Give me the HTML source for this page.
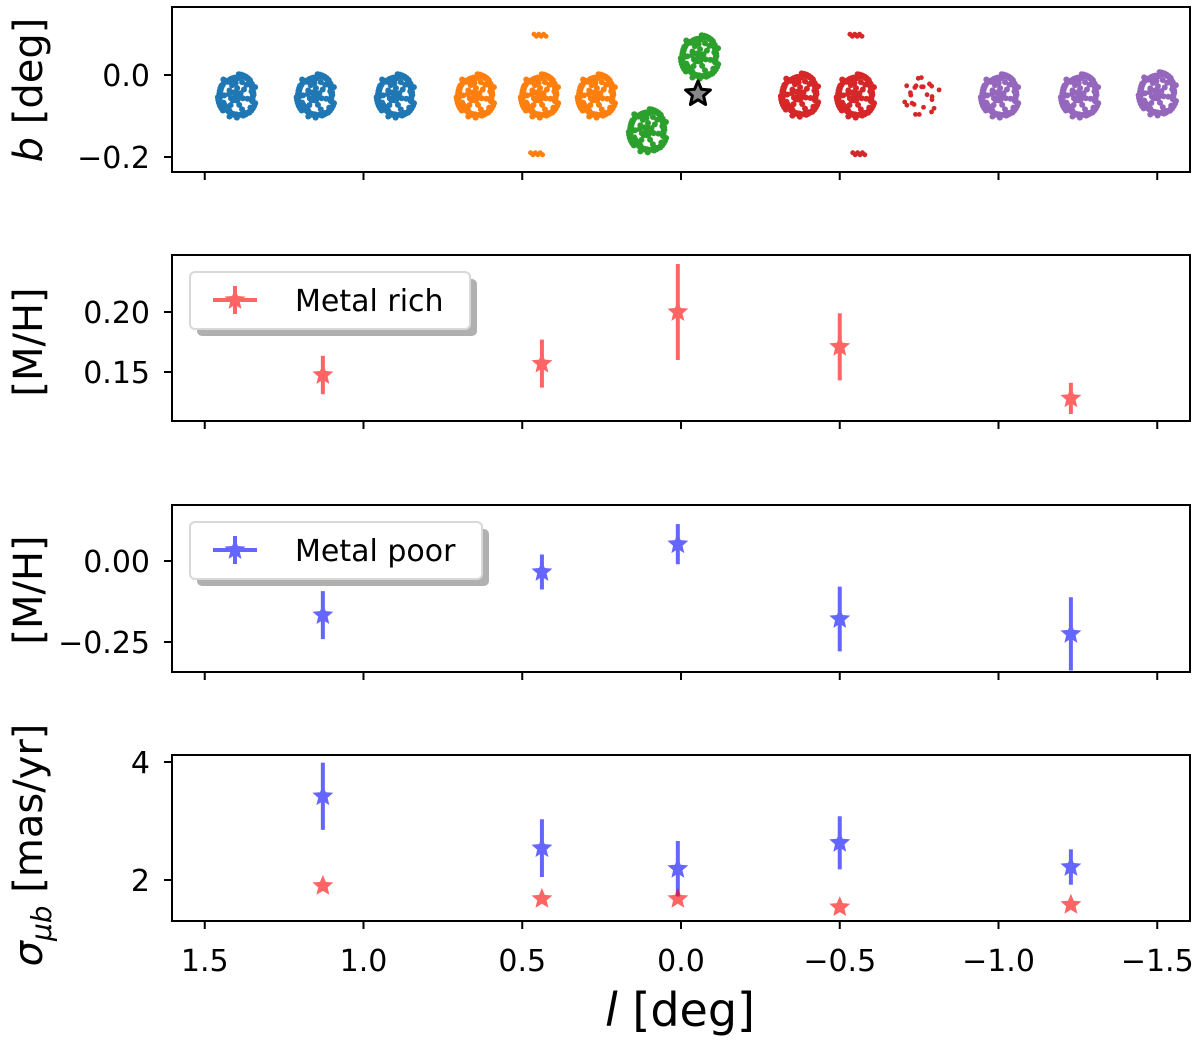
<!DOCTYPE html>
<html><head><meta charset="utf-8"><style>
body{margin:0;background:#fff}
svg{display:block;font-family:"DejaVu Sans","Liberation Sans",sans-serif}
</style></head><body>
<svg id="c" width="1200" height="1040" viewBox="0 0 1200 1040"></svg>
<script>
const lPos=[1.128,0.438,0.01,-0.5,-1.228];
const richM=[0.1475,0.157,0.200,0.171,0.128];
const richMErr=[0.016,0.02,0.04,0.028,0.013];
const poorM=[-0.167,-0.034,0.052,-0.179,-0.225];
const poorMErr=[0.074,0.054,0.062,0.10,0.113];
const poorSig=[3.42,2.54,2.19,2.63,2.22];
const poorSigErr=[0.57,0.49,0.47,0.45,0.3];
const richSig=[1.9,1.68,1.68,1.54,1.58];
const richSigErr=[0.05,0.05,0.06,0.05,0.05];
const fieldL=[1.398,1.15,0.898,0.646,0.444,0.265,0.104,-0.06,-0.375,-0.551,-0.753,-1.005,-1.257,-1.502];
const fieldB=[-0.05,-0.05,-0.05,-0.05,-0.05,-0.05,-0.135,0.045,-0.048,-0.05,-0.048,-0.05,-0.05,-0.045];
const fieldColor=['#1f77b4','#1f77b4','#1f77b4','#ff7f0e','#ff7f0e','#ff7f0e','#2ca02c','#2ca02c','#d62728','#d62728','#d62728','#9467bd','#9467bd','#9467bd'];
const extraL=[0.444,0.455,-0.551,-0.56];
const extraB=[0.097,-0.192,0.097,-0.192];
const extraColor=['#ff7f0e','#ff7f0e','#d62728','#d62728'];
const xTicks=[1.5,1.0,0.5,0.0,-0.5,-1.0,-1.5];

const svg=document.getElementById('c');const NS='http://www.w3.org/2000/svg';
function el(t,a,p){const e=document.createElementNS(NS,t);for(const k in a)e.setAttribute(k,a[k]);(p||svg).appendChild(e);return e;}
const X=l=>681-l*317.5;
const L=172,R=1190;
const panels=[
 {top:7,bot:172,y:v=>75-v*410,ticks:[0.0,-0.2],fmt:v=>v.toFixed(1),name:'b-panel'},
 {top:255,bot:421,y:v=>312-(v-0.20)*1200,ticks:[0.20,0.15],fmt:v=>v.toFixed(2),name:'metal-rich-panel'},
 {top:505,bot:672,y:v=>561-v*324,ticks:[0.00,-0.25],fmt:v=>v.toFixed(2),name:'metal-poor-panel'},
 {top:755,bot:921,y:v=>762-(v-4)*59,ticks:[4,2],fmt:v=>String(v),name:'sigma-panel'}];
const minus=s=>s.replace('-','\u2212');
panels.forEach((p,i)=>{
 const g=el('g',{});
 p.g=g;
 el('rect',{x:L,y:p.top,width:R-L,height:p.bot-p.top,fill:'none',stroke:'#000','stroke-width':2},g);
 xTicks.forEach(t=>{el('line',{x1:X(t),x2:X(t),y1:p.bot,y2:p.bot+8,stroke:'#000','stroke-width':2},g);});
 p.ticks.forEach(t=>{const y=p.y(t);el('line',{x1:L-8,x2:L,y1:y,y2:y,stroke:'#000','stroke-width':2},g);
  const tx=el('text',{x:L-22,y:y+11,'text-anchor':'end','font-size':30},g);tx.textContent=minus(p.fmt(t));
  });
});
function ylab(txt,cx,cy,name){const t=el('text',{x:0,y:0,transform:`translate(${cx},${cy}) rotate(-90)`,'text-anchor':'middle','font-size':40});t.innerHTML=txt;}
ylab('<tspan font-style="italic">b</tspan> [deg]',42,90,'y-axis-title-b');
ylab('[M/H]',42,342,'y-axis-title-rich');
ylab('[M/H]',42,590,'y-axis-title-poor');
ylab('<tspan font-style="italic">σ</tspan><tspan font-size="28" dy="9" font-style="italic">μb</tspan><tspan dy="-9"> [mas/yr]</tspan>',42,845,'y-axis-title-sigma');
xTicks.forEach(t=>{const tx=el('text',{x:X(t),y:971,'text-anchor':'middle','font-size':30});tx.textContent=minus(t.toFixed(1));});
const xl=el('text',{x:680,y:1026,'text-anchor':'middle','font-size':46});xl.innerHTML='<tspan font-style="italic">l</tspan> [deg]';


const p0=panels[0];
fieldL.forEach((l,i)=>{
 const cx=X(l),cy=p0.y(fieldB[i]);const g=el('g',{fill:fieldColor[i]},p0.g);
 
 const sparse=(i===10);const n=sparse?24:110;
 for(let k=0;k<n;k++){const a=k*2.39996;const f=sparse?0.35+0.65*((k*7919)%23)/23:(k%3===0?((k*37)%100)/100:0.75+0.25*((k*13)%7)/7);
  el('circle',{cx:cx+Math.cos(a)*20*f,cy:cy+Math.sin(a)*23*f,r:sparse?2.4:3},g);}
});
extraL.forEach((l,i)=>{const cx=X(l),cy=p0.y(extraB[i]);const g=el('g',{fill:extraColor[i]},p0.g);
 
 for(let k=0;k<6;k++)el('circle',{cx:cx-6+k*2.4,cy:cy+(k%2)*2-1,r:2.5},g);});
function starPath(cx,cy,r){let d='';for(let k=0;k<10;k++){const rr=k%2?r*0.45:r;const a=-Math.PI/2+k*Math.PI/5;d+=(k?'L':'M')+(cx+rr*Math.cos(a)).toFixed(1)+' '+(cy+rr*Math.sin(a)).toFixed(1);}return d+'Z';}
const gs=el('path',{d:starPath(698,94,13),fill:'#888',stroke:'#000','stroke-width':3,'stroke-linejoin':'round'},p0.g);


function series(p,vals,errs,color,name){
 const g=el('g',{},p.g);
 vals.forEach((v,i)=>{const x=X(lPos[i]);const y=p.y(v);
  const pg=el('g',{opacity:0.6},g);
  el('line',{x1:x,x2:x,y1:p.y(v+errs[i]),y2:p.y(v-errs[i]),stroke:color,'stroke-width':4},pg);
  el('path',{d:starPath(x,y,11),fill:color},pg);});
}
series(panels[1],richM,richMErr,'#ff0000','metal-rich-series');
series(panels[2],poorM,poorMErr,'#0000ff','metal-poor-series');
series(panels[3],poorSig,poorSigErr,'#0000ff','sigma-poor-series');
series(panels[3],richSig,richSigErr,'#ff0000','sigma-rich-series');

function legend(p,x0,y0,w,color,txt,name){
 const g=el('g',{},p.g);
 el('rect',{x:x0+7,y:y0+7,width:w,height:57,rx:5,fill:'#b0b0b0'},g);
 el('rect',{x:x0,y:y0,width:w,height:57,rx:5,fill:'#fff',stroke:'#d8d8d8','stroke-width':2},g);
 const m=el('g',{opacity:0.6},g);const cx=x0+45,cy=y0+28;
 el('line',{x1:cx-22,x2:cx+22,y1:cy,y2:cy,stroke:color,'stroke-width':4},m);
 el('line',{x1:cx,x2:cx,y1:cy-14,y2:cy+14,stroke:color,'stroke-width':4},m);
 el('path',{d:starPath(cx,cy,11),fill:color},m);
 const t=el('text',{x:x0+105,y:cy+11,'font-size':30},g);t.textContent=txt;
}
legend(panels[1],190,272,280,'#ff0000','Metal rich','legend-metal-rich');
legend(panels[2],190,522,292,'#0000ff','Metal poor','legend-metal-poor');
</script>
</body></html>
